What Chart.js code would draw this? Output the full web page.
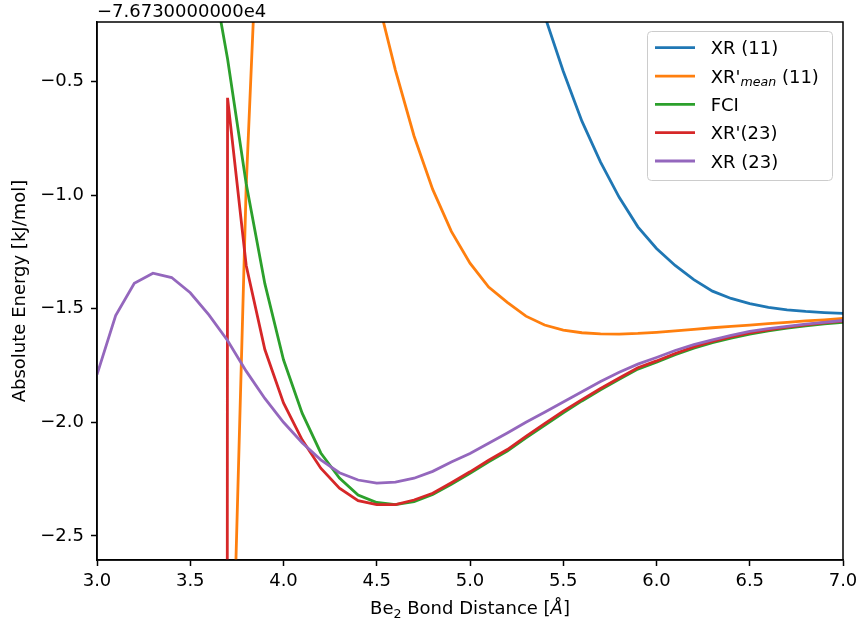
<!DOCTYPE html>
<html>
<head>
<meta charset="utf-8">
<script src="https://cdn.jsdelivr.net/npm/chart.js@4.4.0/dist/chart.umd.min.js"></script>
<style>
  body { margin: 0; background: #fff; }
  canvas { display: block; }
</style>
</head>
<body>
<canvas id="energyChart" width="859" height="630"></canvas>
<script>
// bond distances [Å] and energies [kJ/mol] relative to -7.673e4
var distances = [3.0, 3.1, 3.2, 3.3, 3.4, 3.5, 3.6, 3.7, 3.8, 3.9,
  4.0, 4.1, 4.2, 4.3, 4.4, 4.5, 4.6, 4.7, 4.8, 4.9,
  5.0, 5.1, 5.2, 5.3, 5.4, 5.5, 5.6, 5.7, 5.8, 5.9,
  6.0, 6.1, 6.2, 6.3, 6.4, 6.5, 6.6, 6.7, 6.8, 6.9, 7.0];

var xr11 = [null, null, null, null, null, null, null, null, null, null,
  null, null, null, null, null, null, null, null, null, null,
  null, null, null, null, -0.21, -0.455, -0.675, -0.855, -1.01, -1.14,
  -1.235, -1.31, -1.372, -1.423, -1.455, -1.478, -1.494, -1.505, -1.512, -1.517, -1.521];

var xrMean11 = [null, null, null, null, null, null, null, -3.95, -0.96, 0.95,
  1.5, 1.3, 0.95, 0.6, 0.25, -0.12, -0.45, -0.74, -0.975, -1.16,
  -1.30, -1.405, -1.472, -1.533, -1.572, -1.594, -1.606, -1.611, -1.612, -1.609,
  -1.604, -1.598, -1.591, -1.584, -1.578, -1.572, -1.566, -1.56, -1.554, -1.549, -1.543];

var fci = [null, null, null, null, null, null, 0.06, -0.40, -0.95, -1.39,
  -1.725, -1.96, -2.135, -2.245, -2.32, -2.353, -2.362, -2.349, -2.318, -2.273,
  -2.225, -2.174, -2.127, -2.069, -2.013, -1.958, -1.906, -1.857, -1.811, -1.766,
  -1.736, -1.703, -1.674, -1.65, -1.63, -1.612, -1.598, -1.586, -1.576, -1.567, -1.56];

var xrPrime23 = [null, null, null, null, null, null, -300, -0.572, -1.31, -1.68,
  -1.915, -2.077, -2.202, -2.29, -2.345, -2.362, -2.362, -2.342, -2.312, -2.266,
  -2.218, -2.167, -2.12, -2.062, -2.006, -1.951, -1.9, -1.851, -1.805, -1.76,
  -1.73, -1.697, -1.668, -1.644, -1.624, -1.607, -1.593, -1.581, -1.571, -1.562, -1.555];

var xr23 = [-1.79, -1.53, -1.388, -1.344, -1.363, -1.43, -1.527, -1.64, -1.775, -1.895,
  -2.0, -2.09, -2.165, -2.222, -2.254, -2.268, -2.263, -2.246, -2.216, -2.175,
  -2.137, -2.092, -2.047, -2.0, -1.956, -1.911, -1.866, -1.821, -1.78, -1.744,
  -1.715, -1.684, -1.658, -1.637, -1.618, -1.600, -1.588, -1.578, -1.568, -1.56, -1.552];

var xTicks = [3.0, 3.5, 4.0, 4.5, 5.0, 5.5, 6.0, 6.5, 7.0];
var yTicks = [-2.5, -2.0, -1.5, -1.0, -0.5];

var FONT = '"DejaVu Sans", sans-serif';
Chart.defaults.font.family = FONT;
Chart.defaults.font.size = 18;
Chart.defaults.color = "#000";

function points(values) {
  return distances.map(function (d, i) {
    return { x: d, y: values[i] };
  });
}

function makeSet(label, values, color, order) {
  return {
    label: label,
    data: points(values),
    borderColor: color,
    backgroundColor: color,
    borderWidth: 2.8,
    pointRadius: 0,
    tension: 0,
    fill: false,
    order: order,
  };
}

var legendItems = [
  { color: "#1f77b4", runs: [{ t: "XR (11)" }] },
  { color: "#ff7f0e", runs: [{ t: "XR'" }, { t: "mean", sub: true }, { t: " (11)" }] },
  { color: "#2ca02c", runs: [{ t: "FCI" }] },
  { color: "#d62728", runs: [{ t: "XR'(23)" }] },
  { color: "#9467bd", runs: [{ t: "XR (23)" }] },
];

// draws text pieces with different fonts one after another
function drawRuns(ctx, runs, x, y, align) {
  var total = 0;
  runs.forEach(function (r) {
    ctx.font = r.font;
    r.w = ctx.measureText(r.t).width;
    total += r.w;
  });
  var cx = align === "center" ? x - total / 2 : x;
  ctx.textAlign = "left";
  ctx.textBaseline = "alphabetic";
  runs.forEach(function (r) {
    ctx.font = r.font;
    ctx.fillText(r.t, cx, y + (r.dy || 0));
    cx += r.w;
  });
}

var extras = {
  id: "extras",
  afterDatasetsDraw: function (chart) {
    var ctx = chart.ctx;
    var a = chart.chartArea;
    ctx.save();
    ctx.strokeStyle = "#000";
    ctx.lineWidth = 1.5;
    ctx.strokeRect(a.left, a.top, a.right - a.left, a.bottom - a.top);

    ctx.fillStyle = "#000";
    ctx.font = "18px " + FONT;
    ctx.textAlign = "left";
    ctx.textBaseline = "alphabetic";
    ctx.fillText("\u22127.6730000000e4", a.left, 17);

    // x axis title
    drawRuns(ctx, [
      { t: "Be", font: "18px " + FONT },
      { t: "2", font: "12.6px " + FONT, dy: 3.5 },
      { t: " Bond Distance [", font: "18px " + FONT },
      { t: "\u00c5", font: "italic 18px " + FONT },
      { t: "]", font: "18px " + FONT },
    ], (a.left + a.right) / 2, 614, "center");

    // y axis title
    ctx.save();
    ctx.translate(24.5, (a.top + a.bottom) / 2);
    ctx.rotate(-Math.PI / 2);
    ctx.font = "18px " + FONT;
    ctx.textAlign = "center";
    ctx.fillText("Absolute Energy [kJ/mol]", 0, 0);
    ctx.restore();

    // legend
    var bx = 647.5, by = 31.5, bw = 185, bh = 149;
    ctx.beginPath();
    ctx.roundRect(bx, by, bw, bh, 4);
    ctx.fillStyle = "rgba(255,255,255,0.8)";
    ctx.fill();
    ctx.strokeStyle = "#cccccc";
    ctx.lineWidth = 1;
    ctx.stroke();
    legendItems.forEach(function (item, i) {
      var ry = 47.7 + i * 28.33;
      ctx.beginPath();
      ctx.moveTo(655, ry);
      ctx.lineTo(695, ry);
      ctx.strokeStyle = item.color;
      ctx.lineWidth = 2.8;
      ctx.stroke();
      ctx.fillStyle = "#000";
      var runs = item.runs.map(function (r) {
        return r.sub
          ? { t: r.t, font: "italic 12.6px " + FONT, dy: 3 }
          : { t: r.t, font: "18px " + FONT };
      });
      drawRuns(ctx, runs, 710.7, ry + 6.5, "left");
    });
    ctx.restore();
  },
};

new Chart(document.getElementById("energyChart"), {
  type: "line",
  data: {
    datasets: [
      makeSet("XR (11)", xr11, "#1f77b4", 5),
      makeSet("XR'mean (11)", xrMean11, "#ff7f0e", 4),
      makeSet("FCI", fci, "#2ca02c", 3),
      makeSet("XR'(23)", xrPrime23, "#d62728", 2),
      makeSet("XR (23)", xr23, "#9467bd", 1),
    ],
  },
  options: {
    responsive: false,
    animation: false,
    layout: { padding: { left: 0, top: 22, right: 16, bottom: 0 } },
    plugins: { legend: { display: false }, tooltip: { enabled: false } },
    scales: {
      x: {
        type: "linear",
        min: 3,
        max: 7,
        afterFit: function (s) {
          s.height = 70;
          s.paddingLeft = 0;
          s.paddingRight = 0;
        },
        afterBuildTicks: function (s) {
          s.ticks = xTicks.map(function (v) { return { value: v }; });
        },
        ticks: {
          padding: 5,
          maxRotation: 0,
          callback: function (v) { return v.toFixed(1); },
        },
        grid: { drawOnChartArea: false, drawTicks: true, tickLength: 6, tickColor: "#000", tickWidth: 1.5 },
        border: { display: true, color: "#000", width: 1.5 },
      },
      y: {
        type: "linear",
        min: -2.606,
        max: -0.2385,
        afterFit: function (s) {
          s.width = 97;
          s.paddingTop = 0;
          s.paddingBottom = 0;
        },
        afterBuildTicks: function (s) {
          s.ticks = yTicks.map(function (v) { return { value: v }; });
        },
        ticks: {
          padding: 7,
          callback: function (v) { return v.toFixed(1).replace("-", "\u2212"); },
        },
        grid: { drawOnChartArea: false, drawTicks: true, tickLength: 6, tickColor: "#000", tickWidth: 1.5 },
        border: { display: true, color: "#000", width: 1.5 },
      },
    },
  },
  plugins: [extras],
});
</script>
</body>
</html>
